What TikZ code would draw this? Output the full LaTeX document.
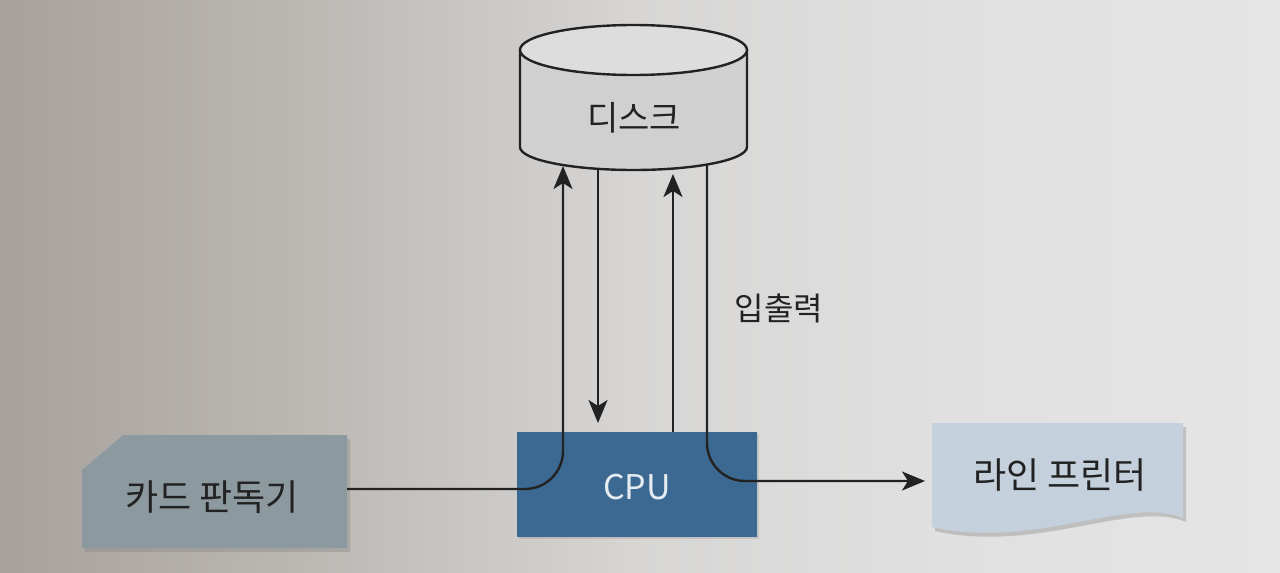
\documentclass[tikz,border=0pt]{standalone}
\usepackage{fontspec}
\setmainfont{Noto Sans CJK KR}
\usetikzlibrary{arrows.meta,shadows,calc}
\definecolor{bg0}{HTML}{A7A19D}
\definecolor{bg1}{HTML}{BCB8B4}
\definecolor{bg2}{HTML}{D7D6D5}
\definecolor{bg3}{HTML}{E0E0E0}
\definecolor{bg4}{HTML}{E5E5E5}
\definecolor{cardfill}{HTML}{8C999F}
\definecolor{cpufill}{HTML}{3C6991}
\definecolor{prnfill}{HTML}{C4D1DD}
\definecolor{diskside}{HTML}{D0D0D0}
\definecolor{disktop}{HTML}{DDDDDD}
\definecolor{ink}{HTML}{222222}
\definecolor{cputxt}{HTML}{E6ECF1}
\pgfdeclarehorizontalshading{bgshade}{100bp}{color(0bp)=(bg0); color(25bp)=(bg0); color(37bp)=(bg1); color(50bp)=(bg2); color(62bp)=(bg3); color(75bp)=(bg4); color(100bp)=(bg4)}
\pgfdeclarelayer{back}
\pgfdeclarelayer{shapes}
\pgfsetlayers{back,shapes,main}
\begin{document}
\begin{tikzpicture}[x=1pt,y=-1pt,
  holder/.style={rectangle, inner sep=0pt, outer sep=0pt},
  label/.style={inner sep=0pt, text=ink, font=\fontsize{36pt}{42pt}\selectfont},
  conn/.style={draw=ink, line width=2.4pt},
  tip/.style={-{Stealth[length=23pt,width=19pt,inset=6pt]}},
  softshadow/.style={drop shadow={opacity=0.35, shadow xshift=3pt, shadow yshift=-4pt}}
]
\useasboundingbox (0,0) rectangle (1280,573);
\begin{pgfonlayer}{back}
  \shade[shading=bgshade] (0,0) rectangle (1280,573);
\end{pgfonlayer}

% holder nodes
\node[holder, minimum width=227pt, minimum height=97pt] (disk) at (633.5,98.5) {};
\node[holder, minimum width=265pt, minimum height=113pt] (card) at (214.5,491.5) {};
\node[holder, minimum width=240pt, minimum height=105pt] (cpu) at (637,484.5) {};
\node[holder, minimum width=251pt, minimum height=95pt] (printer) at (1057.5,470.5) {};

\begin{pgfonlayer}{shapes}
  % disk
  \filldraw[fill=diskside, draw=ink, line width=2.4pt]
    (disk.north west) -- (disk.south west)
    arc[start angle=180, end angle=360, x radius=113.5pt, y radius=23pt]
    -- (disk.north east) -- cycle;
  \filldraw[fill=disktop, draw=ink, line width=2.4pt]
    (disk.north) ellipse[x radius=113.5pt, y radius=25pt];
  % card reader
  \fill[cardfill, softshadow]
    (card.south west) -- ($(card.north west)+(0,35)$) -- ($(card.north west)+(41,0)$)
    -- (card.north east) -- (card.south east) -- cycle;
  % cpu
  \fill[cpufill, drop shadow={opacity=0.25, shadow xshift=2pt, shadow yshift=-2pt}]
    (cpu.north west) rectangle (cpu.south east);
  % line printer
  \fill[prnfill, softshadow]
    (printer.north west) -- (printer.north east) -- (printer.south east)
    .. controls ++(-53,-23) and ++(102,23) .. ($(printer.south west)+(0,9)$) -- cycle;
\end{pgfonlayer}

% texts
\node[label, font=\fontsize{34pt}{40pt}\selectfont] (disklabel) at (634,118) {디스크};
\node[label] (cardlabel) at (212,497) {카드 판독기};
\node[label, text=cputxt, font=\fontsize{34pt}{40pt}\selectfont] (cpulabel) at (637,487) {CPU};
\node[label] (prnlabel) at (1060,475) {라인 프린터};
\node[label, font=\fontsize{32pt}{38pt}\selectfont] (iolabel) at (779,308) {입출력};

% connector end points on the disk
\coordinate (d1) at (563,166);
\coordinate (d2) at (598,169);
\coordinate (d3) at (673,174);
\coordinate (d4) at (707,164.5);
\coordinate (pin) at ([xshift=-7pt,yshift=-10.5pt]printer.west);

% connectors
\draw[conn, tip, rounded corners=38pt] ([yshift=2.5pt]card.east) -| (d1);
\draw[conn, tip] (d2) -- ([yshift=9pt]d2 |- cpu.north);
\draw[conn, tip] (d3 |- cpu.north) -- (d3);
\draw[conn, tip, rounded corners=38pt] (d4) |- (pin);
\end{tikzpicture}
\end{document}
